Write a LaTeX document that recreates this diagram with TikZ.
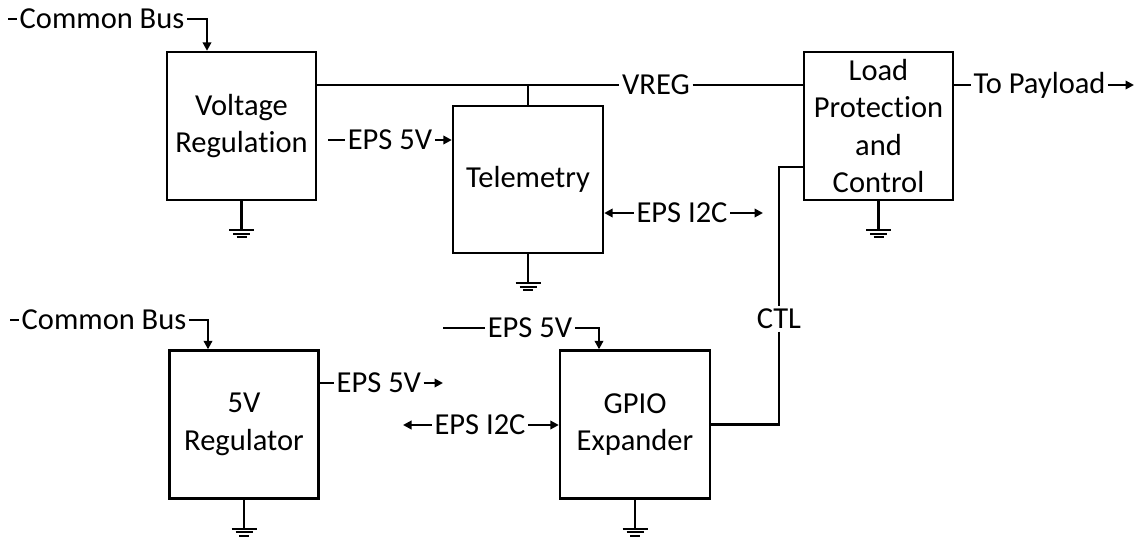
\documentclass[tikz,border=0pt]{standalone}
\usepackage{fontspec}
\setmainfont{Carlito}[Ligatures=NoCommon]
\usetikzlibrary{arrows.meta}
\begin{document}
\begin{tikzpicture}[x=1pt,y=-1pt,
  line width=2.4pt,
  >={Triangle[length=8.5pt,width=8.5pt]},
  box/.style={draw,line width=2.4pt,align=center,inner sep=0pt,minimum width=149pt,minimum height=148pt,font=\fontsize{30.5}{37.5}\selectfont},
  lbl/.style={inner sep=1.5pt,font=\fontsize{30.5}{37.5}\selectfont},
  gnd/.pic={\draw[line width=2.4pt] (0,0) -- (0,29);
            \draw[line width=2.2pt] (-12.5,29) -- (12.5,29) (-8.5,32.5) -- (8.5,32.5) (-5,36) -- (5,36);}]
\useasboundingbox (0,0) rectangle (1142,546);
% boxes
\node[box] (vr) at (241.5,126) {Voltage\\Regulation};
\node[box,minimum width=150pt,minimum height=147pt] (tel) at (528,179.5) {Telemetry};
\node[box] (lp) at (878.5,126) {Load\\Protection\\and\\Control};
\node[box] (reg) at (244,424.5) {5V\\Regulator};
\node[box,minimum width=150pt] (gpio) at (635,424.5) {GPIO\\Expander};
% grounds
\pic at (vr.south) {gnd};
\pic at (tel.south) {gnd};
\pic at (lp.south) {gnd};
\pic at (reg.south) {gnd};
\pic at (gpio.south) {gnd};
% top common bus
\coordinate (cb1s) at (8,19);
\node[lbl,anchor=west] (cb1) at (17,19) {Common Bus};
\draw (cb1s) -- (cb1.west);
\draw[->] (cb1.east) -| (vr.north -| 207,0);
% VREG
\node[lbl] (vreg) at (656,85) {VREG};
\draw (vr.east |- vreg) -- (vreg.west);
\draw (vreg.east) -- (lp.west |- vreg);
\coordinate (tap) at (528,85);
\draw (tap) -- (tel.north);
% EPS 5V into telemetry
\coordinate (e5s) at (328,140);
\node[lbl] (e5a) at (390,140) {EPS 5V};
\draw (e5s) -- (e5a.west);
\draw[->] (e5a.east) -- (tel.west |- e5a);
% EPS I2C telemetry
\coordinate (i2ce) at (763,213);
\node[lbl] (i2ca) at (682,213) {EPS I2C};
\draw[->] (i2ca.west) -- (tel.east |- i2ca);
\draw[->] (i2ca.east) -- (i2ce);
% To payload
\coordinate (pe) at (1134,85);
\node[lbl,anchor=west] (pay) at (971,85) {To Payload};
\draw (lp.east |- pay) -- (pay.west);
\draw[->] (pay.east) -- (pe);
% CTL
\node[lbl] (ctl) at (779,319) {CTL};
\draw (lp.west |- 0,167) -| (ctl.north);
\draw (ctl.south) |- (gpio.east);
% bottom common bus
\coordinate (cb2s) at (10,320);
\node[lbl,anchor=west] (cb2) at (19,320) {Common Bus};
\draw (cb2s) -- (cb2.west);
\draw[->] (cb2.east) -| (reg.north -| 208,0);
% EPS 5V out of regulator
\coordinate (e5e) at (443,383);
\node[lbl,anchor=west] (e5b) at (334,383) {EPS 5V};
\draw (reg.east |- e5b) -- (e5b.west);
\draw[->] (e5b.east) -- (e5e);
% EPS I2C into GPIO
\coordinate (i2cw) at (403,425);
\node[lbl] (i2cb) at (480,425) {EPS I2C};
\draw[->] (i2cb.west) -- (i2cw);
\draw[->] (i2cb.east) -- (gpio.west |- i2cb);
% EPS 5V into GPIO top
\coordinate (e5cs) at (443,328);
\node[lbl] (e5c) at (530,328) {EPS 5V};
\draw (e5cs) -- (e5c.west);
\draw[->] (e5c.east) -| (gpio.north -| 599,0);
\end{tikzpicture}
\end{document}
